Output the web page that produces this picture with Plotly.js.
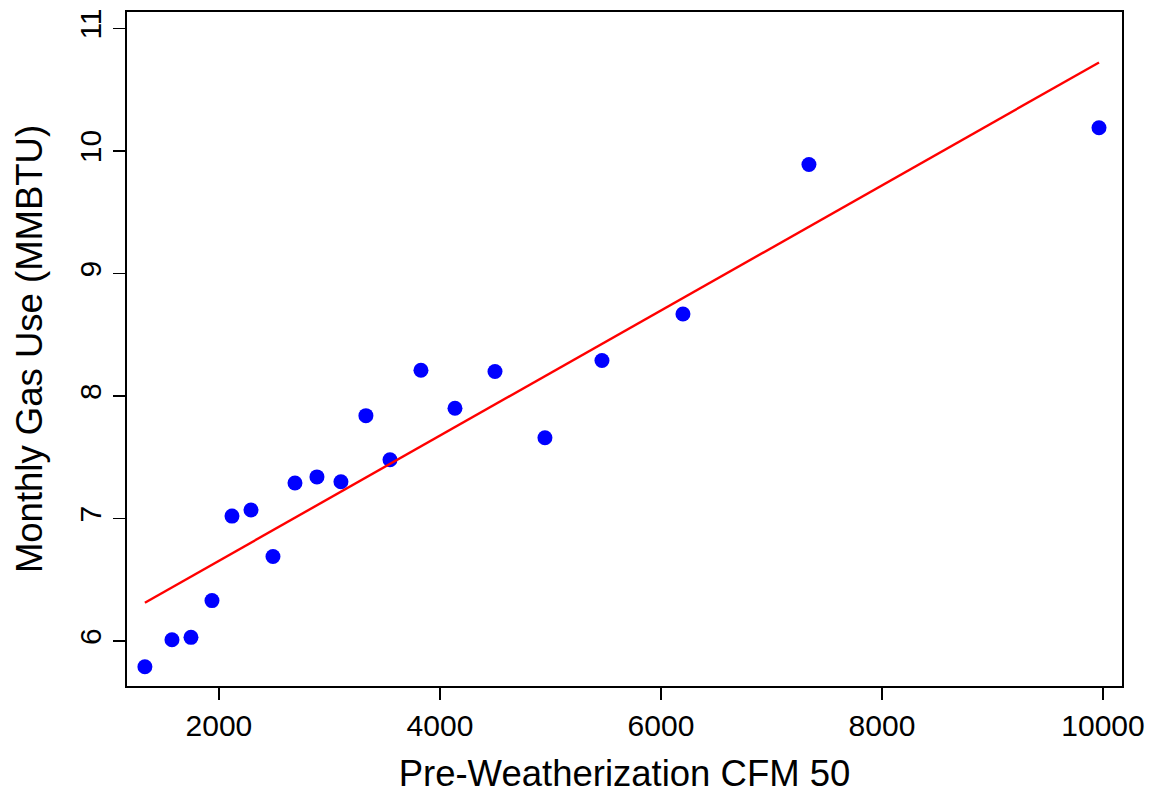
<!DOCTYPE html>
<html>
<head>
<meta charset="utf-8">
<script src="https://cdn.plot.ly/plotly-3.0.1.min.js"></script>
<style>html,body{margin:0;padding:0;background:#fff;}#chart{width:1155px;height:794px;}</style>
</head>
<body>
<div id="chart"></div>
<script>
const cfm50 = [1330, 1575, 1747, 1937, 2118, 2290, 2489, 2688, 2887, 3104, 3330, 3548, 3828, 4136, 4498, 4950, 5466, 6199, 7339, 9964];
const gasUse = [5.79, 6.01, 6.03, 6.33, 7.02, 7.07, 6.69, 7.29, 7.34, 7.30, 7.84, 7.48, 8.21, 7.90, 8.20, 7.66, 8.29, 8.67, 9.89, 10.19];
const xTicks = [2000, 4000, 6000, 8000, 10000];
const yTicks = [6, 7, 8, 9, 10, 11];

// least-squares fit
const n = cfm50.length;
const mx = cfm50.reduce((a, b) => a + b, 0) / n;
const my = gasUse.reduce((a, b) => a + b, 0) / n;
let sxy = 0, sxx = 0;
for (let i = 0; i < n; i++) { sxy += (cfm50[i] - mx) * (gasUse[i] - my); sxx += (cfm50[i] - mx) ** 2; }
const slope = sxy / sxx, intercept = my - slope * mx;
const xMin = Math.min(...cfm50), xMax = Math.max(...cfm50);
const fitX = [xMin, xMax];
const fitY = fitX.map(x => intercept + slope * x);

const font = 'Liberation Sans, Arial, sans-serif';
const traces = [
  {x: cfm50, y: gasUse, type: 'scatter', mode: 'markers', marker: {color: '#0000ff', size: 15}, hoverinfo: 'x+y'},
  {x: fitX, y: fitY, type: 'scatter', mode: 'lines', line: {color: '#ff0000', width: 2.4}, hoverinfo: 'skip'}
];
const layout = {
  width: 1155, height: 794,
  margin: {l: 127, r: 33, t: 12, b: 108},
  paper_bgcolor: '#fff', plot_bgcolor: '#fff',
  showlegend: false,
  font: {family: font, color: '#000'},
  xaxis: {
    range: [1168, 10172], tickvals: xTicks, ticktext: xTicks.map(String),
    showgrid: false, zeroline: false, showline: true, mirror: true, linecolor: '#000', linewidth: 2,
    ticks: 'outside', ticklen: 12, tickwidth: 1.5, tickcolor: '#000',
    tickfont: {size: 30, family: font, color: '#000'},
    title: {text: 'Pre-Weatherization CFM 50', font: {size: 36.5, family: font, color: '#000'}, standoff: 20}
  },
  yaxis: {
    range: [5.633, 11.135], tickvals: yTicks, ticktext: yTicks.map(String), tickangle: -90,
    showgrid: false, zeroline: false, showline: true, mirror: true, linecolor: '#000', linewidth: 2,
    ticks: 'outside', ticklen: 12, tickwidth: 1.5, tickcolor: '#000',
    tickfont: {size: 30, family: font, color: '#000'},
    title: {text: 'Monthly Gas Use (MMBTU)', font: {size: 36.5, family: font, color: '#000'}, standoff: 20}
  }
};
Plotly.newPlot('chart', traces, layout, {displayModeBar: false, staticPlot: true});
</script>
</body>
</html>
